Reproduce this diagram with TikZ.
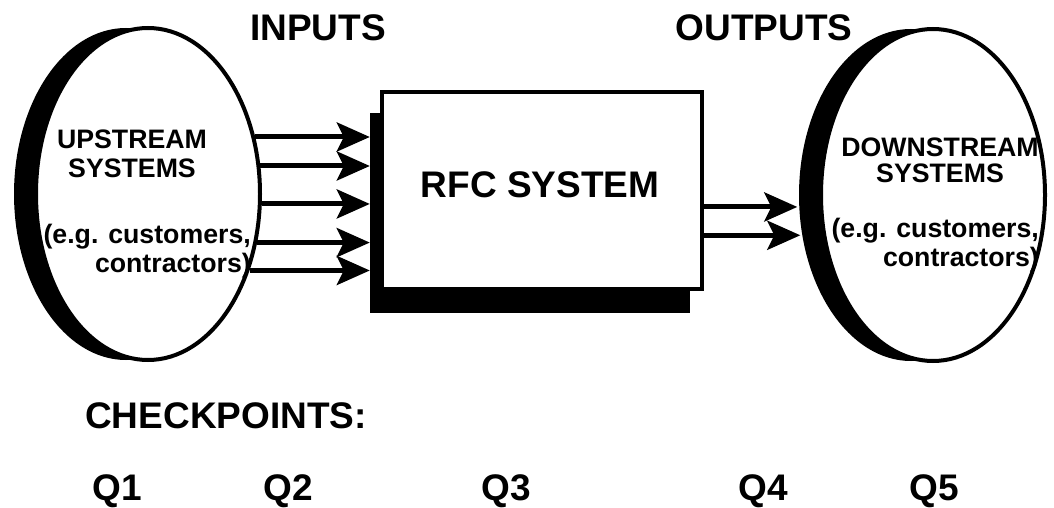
\documentclass[tikz,border=0pt]{standalone}
\usepackage{fontspec}
\setmainfont{Liberation Sans}
\usetikzlibrary{shapes.geometric, arrows.meta}
\tikzset{
  bigtext/.style = {font = \fontsize{37}{40}\selectfont\bfseries, inner sep = 0pt},
  smalltext/.style = {font = \fontsize{26.7}{29}\selectfont\bfseries, inner sep = 0pt},
  blob/.style = {ellipse, minimum width = 224pt, minimum height = 332pt, inner sep = 0pt, line width = 4pt},
  flow/.style = {line width = 5pt, -{Stealth[length = 33pt, width = 29pt, inset = 7pt]}}
}
\begin{document}
\begin{tikzpicture}[x = 1pt, y = 1pt, yscale = -1]
\useasboundingbox (0,0) rectangle (1054,508);
\node[blob, fill] (upshade) at (126,194) {};
\node[blob, draw, fill = white] (up) at (148,194) {};
\node[blob, fill] (downshade) at (911,195) {};
\node[blob, draw, fill = white] (down) at (933,195) {};
\node[rectangle, fill, minimum width = 320pt, minimum height = 200pt] (rfcshade) at (530,213) {};
\node[rectangle, draw, fill = white, line width = 4pt, minimum width = 320pt, minimum height = 196pt] (rfc) at (541.5,190.5) {};
\node[bigtext, anchor = base] (inputs) at (318,41) {INPUTS};
\node[bigtext, anchor = base] (outputs) at (764,41) {OUTPUTS};
\node[bigtext, anchor = base] (rfctext) at (540,197) {RFC SYSTEM};
\node[smalltext, align = center, anchor = base] (uptext) at (132,177) {UPSTREAM\\SYSTEMS};
\node[smalltext, align = right, anchor = base east] (upnote) at (251,272) {(e.g. customers,\\contractors)};
\node[smalltext, align = center, anchor = base] (downtext) at (940,182) {DOWNSTREAM\\[-4pt]SYSTEMS};
\node[smalltext, align = right, anchor = base east] (downnote) at (1039,266) {(e.g. customers,\\contractors)};
\node[bigtext, anchor = base west] (checkpoints) at (85,428) {CHECKPOINTS:};
\foreach \x/\q in {117/1, 288/2, 506/3, 763/4, 934/5}
{
\node[bigtext, anchor = base] (q\q) at (\x,500) {Q\q};
}
\foreach \a in {28, 14, -5, -24, -37}
{
	\draw[flow] (up.\a) -- (up.\a -| rfcshade.west);
}
\foreach \a in {186, 200}
{
	\draw[flow] (rfc.east |- downshade.\a) -- (downshade.\a);
}
\end{tikzpicture}
\end{document}
